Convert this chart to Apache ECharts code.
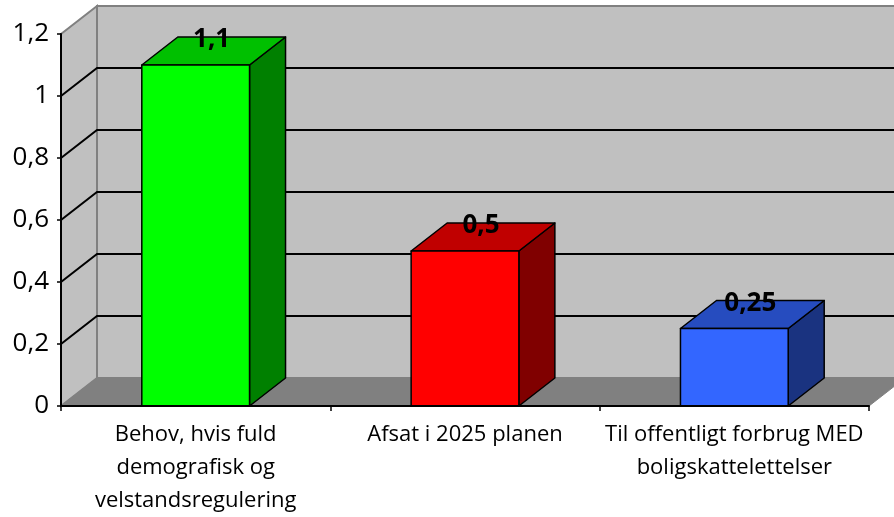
<!DOCTYPE html>
<html><head><meta charset="utf-8">
<script src="https://cdn.jsdelivr.net/npm/echarts@6/dist/echarts.min.js"></script>
<style>html,body{margin:0;padding:0;background:#fff}#c{width:894px;height:517px}</style>
</head><body><div id="c"></div>
<script>
const categories = ['Behov, hvis fuld\ndemografisk og\nvelstandsregulering', 'Afsat i 2025 planen', 'Til offentligt forbrug MED\nboligskattelettelser'];
const values = [1.1, 0.5, 0.25];
const frontColors = ['#00FF00', '#FF0000', '#3366FF'];
const topColors = ['#00C000', '#C00000', '#264CBF'];
const sideColors = ['#008000', '#800000', '#1A3380'];
const yTicks = [0, 0.2, 0.4, 0.6, 0.8, 1, 1.2];
const yMin = 0, yMax = 1.2, yStep = 0.2;

const DX = 36, DY = -28;
const FONT = '"Open Sans", "Liberation Sans", sans-serif';
const fmt = v => String(Math.round(v * 100) / 100).replace('.', ',');

function renderWalls(params, api) {
  const cs = params.coordSys;
  const x0 = cs.x, x1 = cs.x + cs.width, yt = cs.y, yb = cs.y + cs.height;
  const ch = [];
  ch.push({type: 'polygon', shape: {points: [[x0 + DX, yt + DY], [x1 + DX, yt + DY], [x1 + DX, yb + DY], [x0 + DX, yb + DY]]},
    style: {fill: '#C0C0C0', stroke: '#808080', lineWidth: 2}});
  ch.push({type: 'polygon', shape: {points: [[x0, yt], [x0 + DX, yt + DY], [x0 + DX, yb + DY], [x0, yb]]},
    style: {fill: '#C0C0C0', stroke: '#808080', lineWidth: 2}});
  ch.push({type: 'polygon', shape: {points: [[x0, yb], [x0 + DX, yb + DY], [x1 + DX, yb + DY], [x1, yb]]},
    style: {fill: '#808080', stroke: '#808080', lineWidth: 1}});
  yTicks.forEach(v => {
    if (v <= yMin || v >= yMax) return;
    const y = api.coord([0, v])[1];
    ch.push({type: 'polyline', shape: {points: [[x0, y], [x0 + DX, y + DY], [x1 + DX, y + DY]]},
      style: {stroke: '#000', lineWidth: 2, fill: null}});
  });
  return {type: 'group', children: ch};
}

function renderBar(params, api) {
  const i = api.value(0), v = api.value(1);
  const p0 = api.coord([i, 0]), p1 = api.coord([i, v]);
  const bw = api.size([1, 0])[0] * 0.4;
  const xl = p0[0] - bw / 2, xr = p0[0] + bw / 2, yb = p0[1], yt = p1[1];
  const st = {stroke: '#000', lineWidth: 1.5, lineJoin: 'round'};
  return {type: 'group', children: [
    {type: 'polygon', shape: {points: [[xr, yt], [xr + DX, yt + DY], [xr + DX, yb + DY], [xr, yb]]},
      style: Object.assign({fill: sideColors[i]}, st)},
    {type: 'polygon', shape: {points: [[xl, yt], [xl + DX, yt + DY], [xr + DX, yt + DY], [xr, yt]]},
      style: Object.assign({fill: topColors[i]}, st)},
    {type: 'rect', shape: {x: xl, y: yt, width: bw, height: yb - yt},
      style: Object.assign({fill: frontColors[i]}, st)},
    {type: 'text', x: p0[0] + 16, y: yt - 25,
      style: {text: fmt(v), fill: '#000', fontSize: 26, fontWeight: 'bold', fontFamily: FONT, align: 'center', verticalAlign: 'middle'}}
  ]};
}

const chart = echarts.init(document.getElementById('c'), null, {renderer: 'canvas'});
chart.setOption({
  animation: false,
  backgroundColor: '#fff',
  grid: {left: 61, right: 25, top: 34, bottom: 110, containLabel: false},
  xAxis: {
    type: 'category', data: categories, z: 10,
    axisLine: {lineStyle: {color: '#000', width: 2}},
    axisTick: {show: true, length: 5, lineStyle: {color: '#000', width: 1.5}},
    axisLabel: {interval: 0, color: '#000', fontSize: 22, fontFamily: FONT, lineHeight: 33, margin: 12}
  },
  yAxis: {
    type: 'value', min: yMin, max: yMax, interval: yStep, z: 10,
    axisLine: {show: true, lineStyle: {color: '#000', width: 2}},
    axisTick: {show: true, length: 4, lineStyle: {color: '#000', width: 1.5}},
    splitLine: {show: false},
    axisLabel: {color: '#000', fontSize: 26, fontFamily: FONT, margin: 12, formatter: v => fmt(v)}
  },
  series: [
    {type: 'custom', renderItem: renderWalls, data: [[0, 0]], z: 1, silent: true},
    {type: 'custom', renderItem: renderBar, data: values.map((v, i) => [i, v]), z: 2, silent: true}
  ]
});
</script>
</body></html>
